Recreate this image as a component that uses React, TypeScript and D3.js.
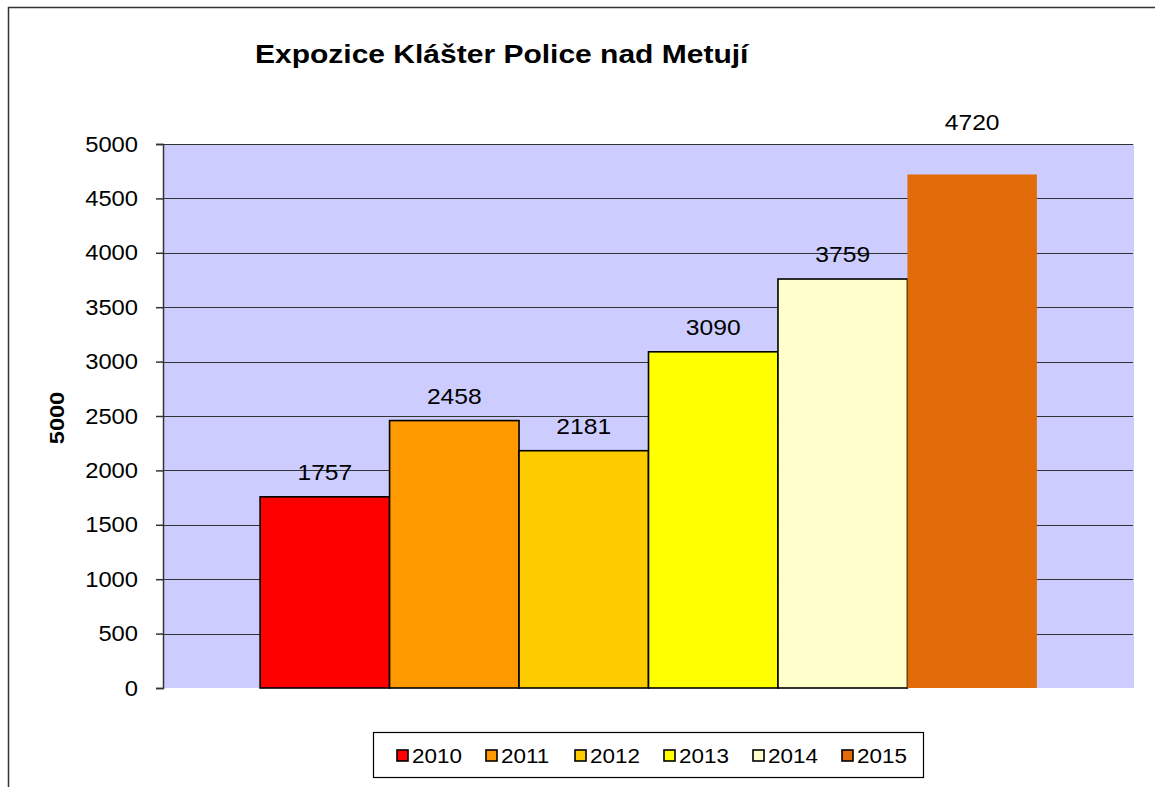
import React, { useRef, useEffect } from 'react';
import * as d3 from 'd3';

const years = ['2010', '2011', '2012', '2013', '2014', '2015'];
const visitors = [1757, 2458, 2181, 3090, 3759, 4720];
const barColors = ['#FF0000', '#FF9900', '#FFCC00', '#FFFF00', '#FFFFCC', '#E36C0A'];
const yTicks = [0, 500, 1000, 1500, 2000, 2500, 3000, 3500, 4000, 4500, 5000];

const App: React.FC = () => {
  const svgRef = useRef<SVGSVGElement>(null);

  useEffect(() => {
    const width = 1155, height = 787;
    const svg = d3.select(svgRef.current as SVGSVGElement);
    svg.selectAll('*').remove();
    svg.attr('width', width).attr('height', height);
    const font = 'Liberation Sans, Arial, sans-serif';

    // chart frame
    svg.append('rect')
      .attr('x', 8.5).attr('y', 7.5)
      .attr('width', 1160).attr('height', 800)
      .attr('fill', '#fff').attr('stroke', '#333').attr('stroke-width', 1.5);

    const left = 163, right = 1134, top = 144, bottom = 688;
    const y = d3.scaleLinear().domain([0, 5000]).range([bottom, top]);
    // one category, six series, gap width 150%
    const unit = (right - left) / 7.5;
    const x = d3.scaleBand<string>()
      .domain(years)
      .range([left + unit * 0.75, right - unit * 0.75])
      .paddingInner(0);

    svg.append('rect')
      .attr('x', left).attr('y', top)
      .attr('width', right - left).attr('height', bottom - top)
      .attr('fill', '#CCCCFF');

    // gridlines
    svg.append('g').selectAll('line')
      .data(yTicks.filter(t => t > 0))
      .join('line')
      .attr('x1', left).attr('x2', right - 1)
      .attr('y1', d => Math.round(y(d)) + 0.5).attr('y2', d => Math.round(y(d)) + 0.5)
      .attr('stroke', '#333').attr('stroke-width', 1.2);

    // bars
    svg.append('g').selectAll('rect')
      .data(visitors)
      .join('rect')
      .attr('x', (_, i) => x(years[i]) as number)
      .attr('y', d => y(d))
      .attr('width', x.bandwidth())
      .attr('height', d => bottom - y(d))
      .attr('fill', (_, i) => barColors[i])
      .attr('stroke', (_, i) => (i === 5 ? 'none' : '#000'))
      .attr('stroke-width', 1.6);

    // value labels (the one that would sit on the top edge goes above the plot)
    svg.append('g').selectAll('text')
      .data(visitors)
      .join('text')
      .attr('transform', (d, i) => {
        const cx = (x(years[i]) as number) + x.bandwidth() / 2;
        const ly = y(d) - 25 < top + 10 ? top - 22 : y(d) - 25;
        return `translate(${cx},${ly}) scale(1.12,1)`;
      })
      .attr('dy', '0.36em')
      .attr('text-anchor', 'middle')
      .attr('font-family', font).attr('font-size', 22)
      .attr('fill', '#000')
      .text(d => String(d));

    // y axis
    const axis = svg.append('g').attr('transform', `translate(${left},0)`)
      .call(d3.axisLeft(y).tickValues(yTicks).tickSize(7).tickPadding(25).tickFormat(d3.format('d')));
    axis.select('.domain').attr('stroke', '#333').attr('stroke-width', 1.5);
    axis.selectAll('.tick line').attr('stroke', '#333').attr('stroke-width', 1.5);
    axis.selectAll('.tick text')
      .attr('x', -25 / 1.08)
      .attr('transform', 'scale(1.08,1)')
      .attr('font-family', font).attr('font-size', 22).attr('fill', '#000');

    // y axis title
    svg.append('text')
      .attr('transform', 'translate(57,418) rotate(-90) scale(1.18,1)')
      .attr('dy', '0.36em')
      .attr('text-anchor', 'middle')
      .attr('font-family', font).attr('font-size', 20).attr('font-weight', 'bold')
      .text('5000');

    // title
    svg.append('text')
      .attr('transform', 'translate(255,63) scale(1.2,1)')
      .attr('font-family', font).attr('font-size', 25).attr('font-weight', 'bold')
      .text('Expozice Klášter Police nad Metují');

    // legend
    const lg = svg.append('g');
    lg.append('rect')
      .attr('x', 373.5).attr('y', 732.5).attr('width', 550).attr('height', 45)
      .attr('fill', '#fff').attr('stroke', '#000').attr('stroke-width', 1.2);
    const item = lg.selectAll('g.item')
      .data(years)
      .join('g')
      .attr('class', 'item')
      .attr('transform', (_, i) => `translate(${397 + i * 89},750)`);
    item.append('rect')
      .attr('width', 11).attr('height', 11)
      .attr('fill', (_, i) => barColors[i])
      .attr('stroke', '#000').attr('stroke-width', 1.6);
    item.append('text')
      .attr('transform', 'translate(15,5.5) scale(1.07,1)')
      .attr('dy', '0.36em')
      .attr('font-family', font).attr('font-size', 21)
      .text(d => d);
  }, []);

  return <svg ref={svgRef} style={{ position: 'absolute', left: 0, top: 0, display: 'block' }} />;
};

export default App;
